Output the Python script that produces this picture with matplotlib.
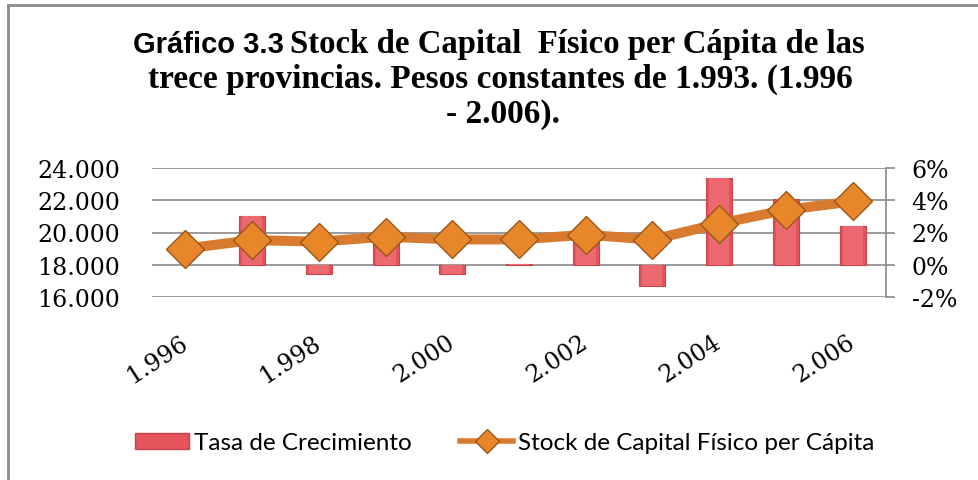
import numpy as np
import matplotlib
matplotlib.use("Agg")
import matplotlib.pyplot as plt
from matplotlib.lines import Line2D
from matplotlib.patches import Patch

years = [1996, 1997, 1998, 1999, 2000, 2001, 2002, 2003, 2004, 2005, 2006]
tasa = [np.nan, 3.0, -0.6, 1.6, -0.6, 0.05, 1.5, -1.3, 5.4, 4.1, 2.4]
stock = [19000, 19530, 19430, 19740, 19570, 19570, 19860, 19560, 20550, 21400, 21930]
left_ticks = [16000, 18000, 20000, 22000, 24000]
left_labels = ["16.000", "18.000", "20.000", "22.000", "24.000"]
right_ticks = [-2, 0, 2, 4, 6]
right_labels = ["-2%", "0%", "2%", "4%", "6%"]
xlabel_years = [1996, 1998, 2000, 2002, 2004, 2006]
series_names = ["Tasa de Crecimiento", "Stock de Capital Físico per Cápita"]

W, H = 979, 481
fig = plt.figure(figsize=(W / 100, H / 100), dpi=100)
fig.patch.set_facecolor("white")

# frame
frame_col = "#8a8a8a"
fig.add_artist(Line2D([8 / W, 8 / W], [0, 1 - 6 / H], transform=fig.transFigure, color=frame_col, lw=2.0))
fig.add_artist(Line2D([8 / W, 1], [1 - 6 / H, 1 - 6 / H], transform=fig.transFigure, color=frame_col, lw=2.0))

tick_font = "DejaVu Serif"
x0, x1, ytop, ybot = 152, 886, 169, 298
ax = fig.add_axes([x0 / W, 1 - ybot / H, (x1 - x0) / W, (ybot - ytop) / H])
axl = ax.twinx()

xs = np.arange(len(years))
bar_col = "#E4545A"
ax.bar(xs, tasa, width=0.39, color=bar_col, edgecolor="#C8444B", linewidth=0.8, zorder=3)
ax.bar(xs, tasa, width=0.30, color="#EC6A6F", linewidth=0, zorder=3)
ax.set_ylim(-2, 6)
ax.set_xlim(-0.5, len(years) - 0.5)
ax.yaxis.tick_right()
ax.set_yticks(right_ticks)
ax.set_yticklabels(right_labels)
ax.tick_params(axis="y", which="major", direction="out", length=6.5, width=1.2, color="#8a8a8a", pad=12,
               labelsize=17)
for t in ax.get_yticklabels():
    t.set_fontfamily(tick_font)
ax.grid(axis="y", color="#8a8a8a", lw=1.2, zorder=0)
ax.set_axisbelow(True)
for s in ["top", "left", "bottom"]:
    ax.spines[s].set_visible(False)
ax.spines["right"].set_color("#8a8a8a")
ax.spines["right"].set_linewidth(1.2)

line_col = "#D97B2E"
axl.plot(xs, stock, color=line_col, lw=7.2, zorder=4, solid_capstyle="butt")
axl.plot(xs, stock, linestyle="none", marker="D", ms=19, markerfacecolor="#E8862A",
         markeredgecolor="#9A5518", markeredgewidth=1.0, zorder=5)
axl.set_ylim(16000, 24000)
axl.yaxis.tick_left()
axl.set_yticks(left_ticks)
axl.set_yticklabels(left_labels)
axl.tick_params(axis="y", length=0, pad=23, labelsize=17)
for t in axl.get_yticklabels():
    t.set_fontfamily(tick_font)
for s in ["top", "left", "bottom", "right"]:
    axl.spines[s].set_visible(False)

ax.set_xticks([years.index(y) for y in xlabel_years])
ax.set_xticklabels([f"{y // 1000}.{y % 1000:03d}" for y in xlabel_years])
ax.tick_params(axis="x", length=0, pad=31, labelsize=17)
for t in ax.get_xticklabels():
    t.set_fontfamily(tick_font)
    t.set_rotation(33)
    t.set_rotation_mode("anchor")
    t.set_ha("right")
    t.set_va("center")

# title
fig.text(284 / W, 1 - 53 / H, "Gráfico 3.3", ha="right", va="baseline", fontsize=21,
         fontweight="bold", family="Liberation Sans")
fig.text(290 / W, 1 - 53 / H, "Stock de Capital  Físico per Cápita de las", ha="left", va="baseline",
         fontsize=23.6, fontweight="bold", family="Liberation Serif")
fig.text(500 / W, 1 - 88 / H, "trece provincias. Pesos constantes de 1.993. (1.996", ha="center",
         va="baseline", fontsize=24, fontweight="bold", family="Liberation Serif")
fig.text(503 / W, 1 - 123 / H, "- 2.006).", ha="center", va="baseline", fontsize=24,
         fontweight="bold", family="Liberation Serif")

handles = [Patch(facecolor=bar_col, edgecolor="#C8444B"),
           Line2D([0], [0], color=line_col, lw=4, marker="D", ms=12, markerfacecolor="#E8862A",
                  markeredgecolor="#9A5518")]
fig.legend(handles, series_names, loc="center", bbox_to_anchor=(505 / W, 1 - 444 / H), ncol=2,
           frameon=False, prop={"family": "Lato", "size": 17.5}, handlelength=2.2, handleheight=0.6,
           handletextpad=0.2, columnspacing=2.0)

fig.savefig("out.png", dpi=100, facecolor="white")
